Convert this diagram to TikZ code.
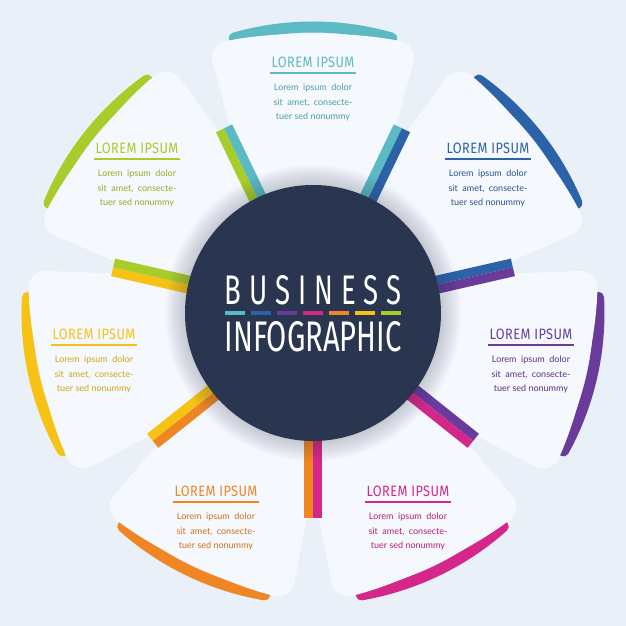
\documentclass[tikz,border=0pt]{standalone}
\usepackage{fontspec}
\setmainfont{Lato}
\newfontfamily\condfont[FakeStretch=0.85,LetterSpace=3]{Fira Sans}
\newfontfamily\bigfont[FakeStretch=0.62,LetterSpace=18]{Fira Sans}
\newfontfamily\bigfontb[FakeStretch=0.62]{Fira Sans}
\definecolor{bg}{HTML}{E9F0F8}
\definecolor{petal}{HTML}{F5F8FD}
\definecolor{navy}{HTML}{2A3550}
\definecolor{cA}{HTML}{5BBAC4}
\definecolor{cB}{HTML}{2B62A8}
\definecolor{cC}{HTML}{6A3B9B}
\definecolor{cD}{HTML}{D5268A}
\definecolor{cE}{HTML}{F08524}
\definecolor{cF}{HTML}{F6C315}
\definecolor{cG}{HTML}{A8CC2A}
\tikzset{
 petalshape/.style={fill=petal, rounded corners=18pt},
 rim/.style={line width=11pt, line cap=round},
 strip/.style={line width=9pt},
 ttl/.style={font=\condfont\fontsize{15}{15}\selectfont, inner sep=1pt},
 body/.style={font=\fontsize{9}{14.5}\selectfont, align=center, inner sep=0pt},
}
\begin{document}
\begin{tikzpicture}[x=1pt,y=1pt]
\useasboundingbox[fill=bg] (-313,-313) rectangle (313,313);
% petals
\foreach \a/\c in {90/cA,38.57/cB,-12.86/cC,-64.29/cD,-115.71/cE,-167.14/cF,141.43/cG}{
  \draw[rim,\c,rotate=\a-90] (106:286) arc[start angle=106,end angle=74,radius=286];
  \path[petalshape,rotate=\a-90] (-60,100) -- (-105,268) .. controls (-40,282) and (40,282) .. (105,268) -- (60,100) -- cycle;
}
% strips
\foreach \s/\l/\r in {64.29/cA/cB,12.86/cB/cC,-38.57/cC/cD,-90/cD/cE,-141.43/cE/cF,167.14/cF/cG,115.71/cG/cA}{
  \draw[strip,\l,rotate=\s] (120,4.5) -- (205,4.5);
  \draw[strip,\r,rotate=\s] (120,-4.5) -- (205,-4.5);
}
% shadow
\foreach \i in {1,...,10}{
  \fill[navy,opacity=0.025] (0,0) circle[radius=128+2*\i];
}
\node[circle,fill=navy,minimum size=256pt,inner sep=0pt] (hub) at (0,0) {};
\node[white,inner sep=0pt] (bus) at (0,23) {\resizebox{177pt}{29pt}{\bigfont BUSINESS}};
\node[white,inner sep=0pt] (info) at (0,-24) {\resizebox{177pt}{30pt}{\bigfontb INFOGRAPHIC}};
\foreach \c [count=\i from 0] in {cA,cB,cC,cD,cE,cF,cG}{
  \fill[\c] (-88+\i*26,-1.5) rectangle ++(20,3);
}
% texts
\foreach \c/\x/\y [count=\i] in {cA/313/62,cB/488/148,cC/531/334,cD/408/491,cE/216/491,cF/94/334,cG/137/148}{
  \node[ttl,text=\c] (t\i) at (\x-313,313-\y) {LOREM IPSUM};
  \draw[\c,line width=2pt] ([yshift=-4pt]t\i.south west) -- ([yshift=-4pt]t\i.south east);
  \node[body,text=\c!85!black,anchor=north] (b\i) at (\x-313,313-\y-22) {Lorem\ \ ipsum\ \ dolor\\sit\ \ amet,\ \ consecte-\\tuer sed nonummy};
}
\end{tikzpicture}
\end{document}
